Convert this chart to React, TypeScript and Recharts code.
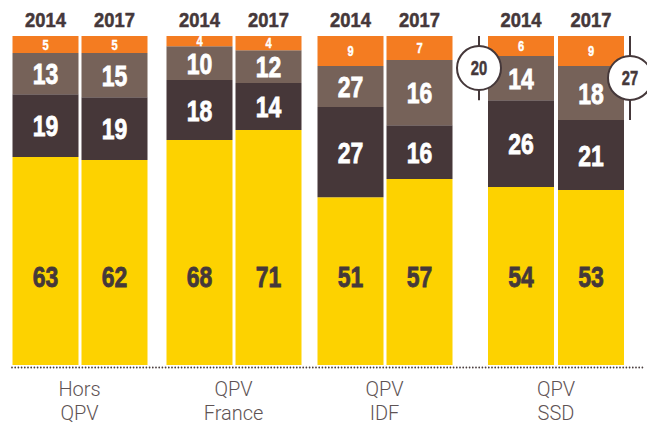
import React from 'react';
import { BarChart, Bar, XAxis, YAxis, LabelList } from 'recharts';

// ---- data ----
const years = ['2014', '2017'];
const groupLabels: string[][] = [
  ['Hors', 'QPV'],
  ['QPV', 'France'],
  ['QPV', 'IDF'],
  ['QPV', 'SSD'],
];
// bar order: Hors 2014, Hors 2017, France 2014, France 2017, IDF 2014, IDF 2017, SSD 2014, SSD 2017
const yellowValues = [63.2, 62.3, 68.4, 71.4, 51.0, 56.5, 54.1, 53.2];
const darkValues = [19.1, 19.1, 18.2, 14.3, 27.4, 16.4, 26.4, 21.3];
const greyValues = [12.5, 13.4, 10.3, 10.0, 12.5, 19.8, 13.4, 16.4];
const orangeValues = [5.2, 5.2, 3.1, 4.3, 9.1, 7.3, 6.1, 9.1];

const yellowLabels = [63, 62, 68, 71, 51, 57, 54, 53];
const darkLabels = [19, 19, 18, 14, 27, 16, 26, 21];
const greyLabels = [13, 15, 10, 12, 27, 16, 14, 18];
const orangeLabels = [5, 5, 4, 4, 9, 7, 6, 9];
const totalLabels: (number | null)[] = [null, null, null, null, null, null, 20, 27];

// ---- styles / layout ----
const W = 647;
const H = 424;
const PLOT_TOP = 36;
const PLOT_BOTTOM = 365;
const plotLefts = [10.5, 164.5, 315.5, 486];
const plotWidths = [138, 138, 138, 140];

const YELLOW = '#FDD200';
const DARK = '#463739';
const GREY = '#766259';
const ORANGE = '#F47C21';
const TEXT_DARK = '#45383A';
const AXIS_TEXT = '#5E5354';
const BOLD_FONT = "'Liberation Sans', Arial, sans-serif";

const groupData = groupLabels.map((_, g) =>
  years.map((year, i) => {
    const k = g * 2 + i;
    return {
      year,
      yellow: yellowValues[k],
      dark: darkValues[k],
      grey: greyValues[k],
      orange: orangeValues[k],
      yellowLabel: yellowLabels[k],
      darkLabel: darkLabels[k],
      greyLabel: greyLabels[k],
      orangeLabel: orangeLabels[k],
      total: totalLabels[k],
    };
  })
);

function box(p: any) {
  const v = p.viewBox && p.viewBox.width !== undefined ? p.viewBox : p;
  return { x: Number(v.x), y: Number(v.y), width: Number(v.width), height: Number(v.height) };
}

// condensed heavy text: Liberation Sans Bold squeezed to the measured width
function NarrowText(props: {
  x: number;
  y: number;
  value: any;
  fontSize: number;
  charW: number;
  fill: string;
  weight?: number;
}) {
  const s = String(props.value);
  return (
    <text
      x={props.x}
      y={props.y}
      textAnchor="middle"
      fill={props.fill}
      stroke={props.fill}
      strokeWidth={props.weight ?? 0.8}
      fontFamily={BOLD_FONT}
      fontWeight={700}
      fontSize={props.fontSize}
      textLength={s.length * props.charW}
      lengthAdjust="spacingAndGlyphs"
    >
      {s}
    </text>
  );
}

const centerLabel = (fill: string, fontSize: number, charW: number, weight?: number) => (p: any) => {
  const b = box(p);
  if (p.value === null || p.value === undefined) return null;
  const cap = fontSize * 0.716;
  return (
    <NarrowText
      x={b.x + b.width / 2}
      y={b.y + b.height / 2 + cap / 2}
      value={p.value}
      fontSize={fontSize}
      charW={charW}
      fill={fill}
      weight={weight}
    />
  );
};

const yellowLabel = (p: any) => {
  const b = box(p);
  return (
    <NarrowText
      x={b.x + b.width / 2}
      y={b.y + b.height - 78}
      value={p.value}
      fontSize={30}
      charW={12.8}
      fill={TEXT_DARK}
    />
  );
};

const yearLabel = (p: any) => {
  const b = box(p);
  return (
    <NarrowText
      x={b.x + b.width / 2}
      y={b.y - 9}
      value={p.value}
      fontSize={19.5}
      charW={10.2}
      fill={TEXT_DARK}
      weight={0.5}
    />
  );
};

const makeTotalLabel = (data: any[]) => (p: any) => {
  if (p.value === null || p.value === undefined) return null;
  const b = box(p);
  const entry = data[p.index];
  const pxPerUnit = b.height / entry.orange;
  const top = b.y;
  const bottom = b.y + b.height + entry.grey * pxPerUnit;
  const cx = p.index === 0 ? b.x - 9 : b.x + b.width + 6;
  const cy = (top + bottom) / 2;
  return (
    <g>
      <line x1={cx} y1={top} x2={cx} y2={bottom} stroke={TEXT_DARK} strokeWidth={2} />
      <circle cx={cx} cy={cy} r={22} fill="#ffffff" stroke={TEXT_DARK} strokeWidth={2} />
      <NarrowText x={cx} y={cy + 7} value={p.value} fontSize={19.5} charW={8.2} fill={TEXT_DARK} weight={0.5} />
    </g>
  );
};

const makeGroupLabel = (lines: string[]) => (p: any) => {
  const b = box(p);
  const cx = b.x + b.width / 2;
  return (
    <text
      textAnchor="middle"
      fill={AXIS_TEXT}
      fontFamily="Roboto, 'Liberation Sans', sans-serif"
      fontWeight={300}
      fontSize={20}
    >
      <tspan x={cx} y={396}>{lines[0]}</tspan>
      <tspan x={cx} y={420}>{lines[1]}</tspan>
    </text>
  );
};

function GroupChart({ g }: { g: number }) {
  const data = groupData[g];
  const left = plotLefts[g];
  const right = W - left - plotWidths[g];
  return (
    <div style={{ position: 'absolute', left: 0, top: 0 }}>
      <BarChart
        width={W}
        height={H}
        data={data}
        margin={{ top: PLOT_TOP, left, right, bottom: 0 }}
        barSize={66}
      >
        <XAxis
          dataKey="year"
          height={H - PLOT_BOTTOM}
          tick={false}
          tickLine={false}
          axisLine={false}
          label={makeGroupLabel(groupLabels[g])}
        />
        <YAxis hide domain={[0, 100]} allowDataOverflow />
        <Bar dataKey="yellow" stackId="s" fill={YELLOW} isAnimationActive={false}>
          <LabelList dataKey="yellowLabel" content={yellowLabel} />
        </Bar>
        <Bar dataKey="dark" stackId="s" fill={DARK} isAnimationActive={false}>
          <LabelList dataKey="darkLabel" content={centerLabel('#ffffff', 30, 12.8)} />
        </Bar>
        <Bar dataKey="grey" stackId="s" fill={GREY} isAnimationActive={false}>
          <LabelList dataKey="greyLabel" content={centerLabel('#ffffff', 30, 12.8)} />
        </Bar>
        <Bar dataKey="orange" stackId="s" fill={ORANGE} isAnimationActive={false}>
          <LabelList dataKey="orangeLabel" content={centerLabel('#ffffff', 14, 6.2, 0.4)} />
          <LabelList dataKey="year" content={yearLabel} />
          <LabelList dataKey="total" content={makeTotalLabel(data)} />
        </Bar>
      </BarChart>
    </div>
  );
}

export default function App() {
  return (
    <div style={{ position: 'absolute', left: 0, top: 0, width: W, height: H, overflow: 'hidden', background: '#fff' }}>
      <svg width={W} height={H} style={{ position: 'absolute', left: 0, top: 0 }}>
        <line
          x1={12}
          y1={367.5}
          x2={644}
          y2={367.5}
          stroke="#4A3E3F"
          strokeWidth={1.8}
          strokeLinecap="round"
          strokeDasharray="0 3.2"
        />
      </svg>
      {groupLabels.map((_, g) => (
        <GroupChart key={g} g={g} />
      ))}
    </div>
  );
}
